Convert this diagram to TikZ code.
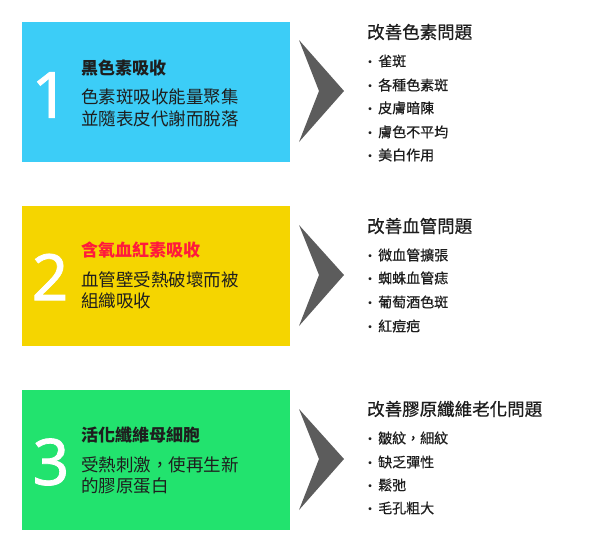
\documentclass[tikz,border=0pt]{standalone}
\usepackage{fontspec}
\setmainfont{Noto Sans CJK TC}
\newfontfamily\numfont[FakeBold=1.2]{Noto Sans}
\newfontfamily\medfont[FakeBold=0.6]{Noto Sans CJK TC}
\definecolor{cyanbox}{HTML}{3CCDF7}
\definecolor{yellowbox}{HTML}{F5D500}
\definecolor{greenbox}{HTML}{22E36E}
\definecolor{chev}{HTML}{5C5C5C}
\definecolor{redtitle}{HTML}{FF1A3C}
\definecolor{txt}{HTML}{1E1E1E}
\begin{document}
\begin{tikzpicture}[x=1pt,y=-1pt,
  num/.style={font=\numfont\fontsize{64}{64}\selectfont, text=white, inner sep=0pt},
  ltitle/.style={font=\fontsize{17}{17}\selectfont\bfseries, anchor=west, inner sep=0pt, text=txt},
  lbody/.style={font=\fontsize{17.5}{22}\selectfont, anchor=west, inner sep=0pt, text=txt},
  rtitle/.style={font=\medfont\fontsize{17.5}{17.5}\selectfont, anchor=west, inner sep=0pt, text=txt},
  bullet/.style={font=\medfont\fontsize{14}{14}\selectfont, anchor=west, inner sep=0pt, text=txt},
  bdot/.style={font=\fontsize{14}{14}\selectfont, anchor=base, inner sep=0pt, text=txt},
  chevron/.style={fill=chev}
]
\useasboundingbox (0,0) rectangle (600,550);
\fill[white] (0,0) rectangle (600,550);

% boxes
\fill[cyanbox] (22,22) rectangle (290,162);
\fill[yellowbox] (22,206) rectangle (290,346);
\fill[greenbox] (22,390) rectangle (290,530);

% numbers
\node[num] (n1) at (50,95) {1};
\node[num] (n2) at (50,277) {2};
\node[num] (n3) at (51,462) {3};

% left texts
\node[ltitle] (t1) at (81,68) {黑色素吸收};
\node[lbody] (b1a) at (81,97) {色素斑吸收能量聚集};
\node[lbody] (b1b) at (81,119) {並隨表皮代謝而脫落};

\node[ltitle, text=redtitle] (t2) at (81,250) {含氧血紅素吸收};
\node[lbody] (b2a) at (81,280) {血管壁受熱破壞而被};
\node[lbody] (b2b) at (81,301) {組織吸收};

\node[ltitle] (t3) at (81,435) {活化纖維母細胞};
\node[lbody] (b3a) at (81,465) {受熱刺激，使再生新};
\node[lbody] (b3b) at (81,486) {的膠原蛋白};

% chevrons
\fill[chevron] (299,40) -- (344,91) -- (299,142) -- (319,91) -- cycle;
\fill[chevron] (299,225) -- (344,275) -- (299,326) -- (319,275) -- cycle;
\fill[chevron] (299,409) -- (344,459) -- (299,510) -- (319,459) -- cycle;

% right texts
\node[rtitle] (r1) at (367,32) {改善色素問題};
\foreach \y/\t [count=\i] in {61/雀斑,85/各種色素斑,108/皮膚暗陳,132/膚色不平均,155/美白作用}{
  \node[bdot] (d1\i) at (370,\y+6) {·};
  \node[bullet] (r1\i) at (378,\y) {\t};
}

\node[rtitle] (r2) at (367,226) {改善血管問題};
\foreach \y/\t [count=\i] in {255/微血管擴張,278/蜘蛛血管痣,302/葡萄酒色斑,326/紅痘疤}{
  \node[bdot] (d2\i) at (370,\y+6) {·};
  \node[bullet] (r2\i) at (378,\y) {\t};
}

\node[rtitle] (r3) at (367,409) {改善膠原纖維老化問題};
\foreach \y/\t [count=\i] in {438/皺紋，細紋,462/缺乏彈性,485/鬆弛,508/毛孔粗大}{
  \node[bdot] (d3\i) at (370,\y+6) {·};
  \node[bullet] (r3\i) at (378,\y) {\t};
}
\end{tikzpicture}
\end{document}
